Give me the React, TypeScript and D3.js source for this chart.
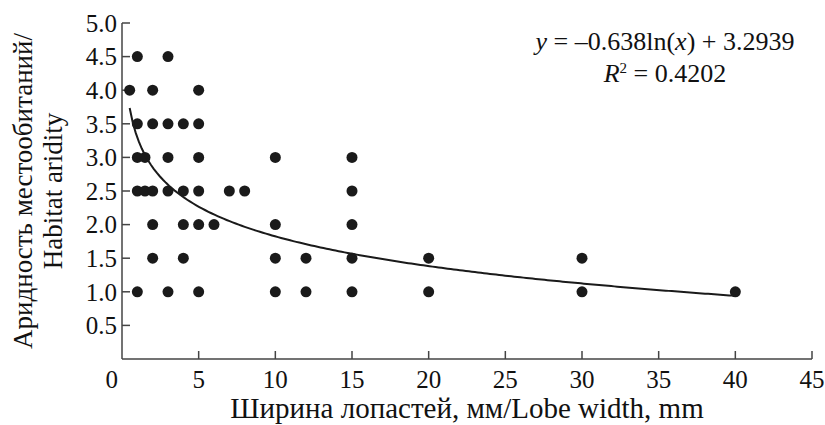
import React from "react";
import * as d3 from "d3";

// lobe width, mm
const lobeWidth = [
  0.5, 1, 3, 2, 5,
  1, 2, 3, 4, 5,
  1, 1.5, 3, 5, 10, 15,
  1, 1.5, 2, 3, 4, 5, 7, 8, 15,
  2, 4, 5, 6, 10, 15,
  2, 4, 10, 12, 15, 20, 30,
  1, 3, 5, 10, 12, 15, 20, 30, 40,
];
// habitat aridity
const aridity = [
  4, 4.5, 4.5, 4, 4,
  3.5, 3.5, 3.5, 3.5, 3.5,
  3, 3, 3, 3, 3, 3,
  2.5, 2.5, 2.5, 2.5, 2.5, 2.5, 2.5, 2.5, 2.5,
  2, 2, 2, 2, 2, 2,
  1.5, 1.5, 1.5, 1.5, 1.5, 1.5, 1.5,
  1, 1, 1, 1, 1, 1, 1, 1, 1,
];
const xTicks = [0, 5, 10, 15, 20, 25, 30, 35, 40, 45];
const yTicks = [0.5, 1, 1.5, 2, 2.5, 3, 3.5, 4, 4.5, 5];
const fitA = -0.638;
const fitB = 3.2939;
const fitFrom = 0.5;
const fitTo = 40;

const W = 825, H = 425;
const FONT = "'Liberation Serif', 'Times New Roman', serif";

export default function App() {
  const x = d3.scaleLinear().domain([0, 45]).range([122, 812]);
  const y = d3.scaleLinear().domain([0, 5]).range([359, 23]);

  const fitPts = d3.range(0, 201).map((i) => {
    const v = fitFrom + ((fitTo - fitFrom) * i) / 200;
    return [v, fitA * Math.log(v) + fitB] as [number, number];
  });
  const line = d3
    .line<[number, number]>()
    .x((d) => x(d[0]))
    .y((d) => y(d[1]));

  const axisColor = "#444";

  return (
    <svg
      width={W}
      height={H}
      style={{ position: "absolute", left: 0, top: 0, background: "#fff" }}
      fontFamily={FONT}
    >
      {/* axes */}
      <line x1={x(0)} x2={x(0)} y1={y(5)} y2={y(0)} stroke={axisColor} strokeWidth={1.5} />
      <line x1={x(0)} x2={x(45)} y1={y(0)} y2={y(0)} stroke={axisColor} strokeWidth={1.5} />
      {yTicks.map((t) => (
        <g key={"y" + t}>
          <line x1={x(0)} x2={x(0) + 8} y1={y(t)} y2={y(t)} stroke={axisColor} strokeWidth={1.5} />
          <text x={x(0) - 5} y={y(t)} dy="0.35em" textAnchor="end" fontSize={25} fill="#111">
            {t.toFixed(1)}
          </text>
        </g>
      ))}
      <text x={x(0) - 4} y={y(0) + 29} textAnchor="end" fontSize={25} fill="#111">0</text>
      {xTicks.filter((t) => t > 0).map((t) => (
        <g key={"x" + t}>
          <line x1={x(t)} x2={x(t)} y1={y(0)} y2={y(0) - 8} stroke={axisColor} strokeWidth={1.5} />
          <text x={x(t)} y={y(0) + 29} textAnchor="middle" fontSize={25} fill="#111">
            {t}
          </text>
        </g>
      ))}

      {/* points */}
      {lobeWidth.map((v, i) => (
        <circle key={i} cx={x(v)} cy={y(aridity[i])} r={5.5} fill="#1a1a1a" />
      ))}

      {/* log fit */}
      <path d={line(fitPts) || ""} fill="none" stroke="#1a1a1a" strokeWidth={2} />

      {/* equation */}
      <text x={665} y={50} textAnchor="middle" fontSize={26} fill="#111">
        <tspan fontStyle="italic">y</tspan> = –0.638ln(<tspan fontStyle="italic">x</tspan>) + 3.2939
      </text>
      <text x={665} y={82} textAnchor="middle" fontSize={26} fill="#111">
        <tspan fontStyle="italic">R</tspan>
        <tspan fontSize={15} dy={-9}>2</tspan>
        <tspan dy={9}> = 0.4202</tspan>
      </text>

      {/* axis titles */}
      <text x={(x(0) + x(45)) / 2} y={418} textAnchor="middle" fontSize={29} fill="#111">
        Ширина лопастей, мм/Lobe width, mm
      </text>
      <text transform={`translate(32, ${y(2.5)}) rotate(-90)`} textAnchor="middle" fontSize={27} fill="#111">
        Аридность местообитаний/
      </text>
      <text transform={`translate(62, ${y(2.5)}) rotate(-90)`} textAnchor="middle" fontSize={27} fill="#111">
        Habitat aridity
      </text>
    </svg>
  );
}
